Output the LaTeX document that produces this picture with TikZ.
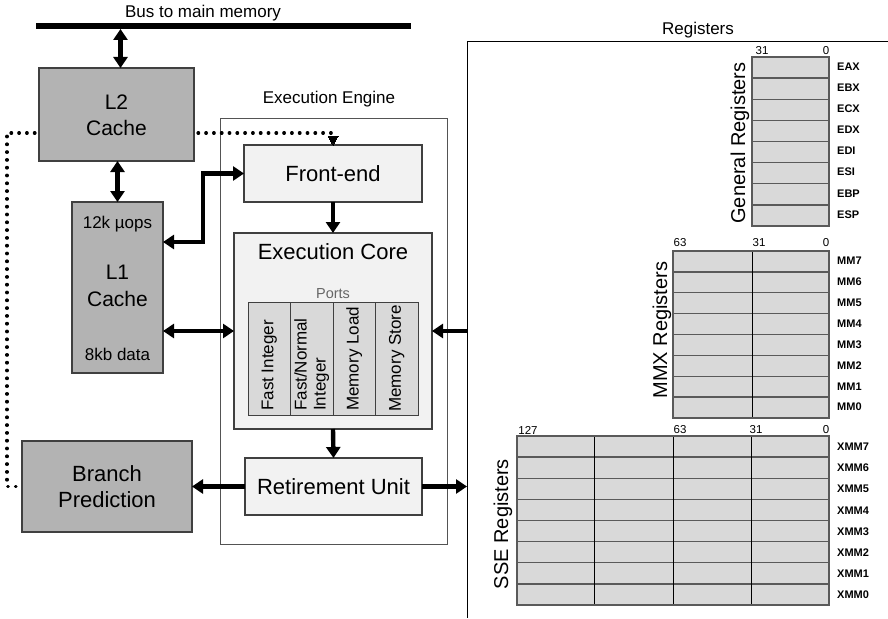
\documentclass[tikz,border=0pt]{standalone}
\usepackage{fontspec}
\setmainfont{Liberation Sans}
\usetikzlibrary{arrows.meta,calc}
\definecolor{cachegray}{HTML}{B3B3B3}
\definecolor{unitfill}{HTML}{F2F2F2}
\definecolor{cellfill}{HTML}{D9D9D9}
\definecolor{edge}{HTML}{404040}
\definecolor{rowline}{HTML}{5A5A5A}
\begin{document}
\begin{tikzpicture}[x=1pt,y=-1pt,
  font=\fontsize{17}{20}\selectfont,
  box/.style={draw=edge, line width=1.2pt, inner sep=0pt, outer sep=0pt, align=center},
  cache/.style={box, fill=cachegray},
  unit/.style={box, fill=unitfill, font=\fontsize{22}{26}\selectfont},
  portcol/.style={draw=edge, line width=1pt, fill=cellfill, inner sep=0pt, outer sep=0pt,
                  minimum width=42.5pt, minimum height=113pt},
  portlabel/.style={rotate=90, anchor=west, inner sep=0pt, align=left,
                    font=\fontsize{17}{19}\selectfont},
  bigtip/.tip={Triangle[length=11pt,width=14pt]},
  link/.style={line width=4.4pt, -bigtip},
  biarrow/.style={line width=4.4pt, bigtip-bigtip},
  dots/.style={line width=3.2pt, line cap=round, dash pattern=on 0.6pt off 7.2pt},
  regtitle/.style={rotate=90, font=\fontsize{20}{24}\selectfont},
  regname/.style={anchor=west, inner sep=0pt, font=\fontsize{11}{12}\selectfont\bfseries},
  bitnum/.style={inner sep=0pt, font=\fontsize{11.5}{13}\selectfont}
]
\useasboundingbox (0,0) rectangle (888,618);

% ---------- memory bus ----------
\coordinate (busL) at (36,26);
\coordinate (busR) at (411,26);
\coordinate (busA) at (120.5,29);
\draw[line width=6pt] (busL) -- (busR);
\node (buslabel) at (203,13) {Bus to main memory};

% ---------- caches and branch predictor ----------
\node[cache, minimum width=155pt, minimum height=93pt] (l2) at (116.5,114.5) {};
\node[font=\fontsize{21}{24}\selectfont] at (116.5,102) {L2};
\node[font=\fontsize{21}{24}\selectfont] at (116.5,128) {Cache};

\node[cache, minimum width=91pt, minimum height=171pt] (l1) at (117.5,287.5) {};
\node at (117.5,224) {12k µops};
\node[font=\fontsize{21}{24}\selectfont] at (117.5,272) {L1};
\node[font=\fontsize{21}{24}\selectfont] at (117.5,299) {Cache};
\node at (117.5,354) {8kb data};

\node[cache, minimum width=170pt, minimum height=91pt,
      font=\fontsize{22}{26}\selectfont] (br) at (107,486.5) {Branch\\Prediction};

% ---------- execution engine ----------
\node[draw=edge!90, line width=1pt, minimum width=227pt, minimum height=426pt,
      inner sep=0pt, outer sep=0pt] (eng) at (333.5,331) {};
\node (englabel) at (329,99) {Execution Engine};

\node[unit, minimum width=178pt, minimum height=57pt] (fe) at (333,173.5) {Front-end};
\node[box, fill=unitfill, minimum width=198pt, minimum height=196pt] (core) at (333,331) {};
\node[font=\fontsize{22}{26}\selectfont] at (333,252) {Execution Core};
\node[text=black!60, font=\fontsize{14.5}{17}\selectfont] at (333,294) {Ports};

\node[portcol] (p1) at (269.25,358.5) {};
\node[portcol] (p2) at (311.75,358.5) {};
\node[portcol] (p3) at (354.25,358.5) {};
\node[portcol] (p4) at (396.75,358.5) {};
\node[portlabel] at ([yshift=4pt]p1.south) {Fast Integer};
\node[portlabel] at ([yshift=4pt]p2.south) {Fast/Normal\\Integer};
\node[portlabel] at ([yshift=4pt]p3.south) {Memory Load};
\node[portlabel] at ([yshift=3pt]p4.south) {Memory Store};

\node[unit, minimum width=177pt, minimum height=57pt] (ret) at (333.5,486.5) {Retirement Unit};

% ---------- register files ----------
\coordinate (regTL) at (467,41);
\draw[line width=0.9pt] (888,41) -- (regTL) -- (467,618);
\node (reglabel) at (698,30) {Registers};

% general purpose registers
\fill[cellfill] (752,57) rectangle (829,226);
\foreach \i in {1,...,7}
  \draw[rowline, line width=1.4pt] (752,{57+21.125*\i}) -- (829,{57+21.125*\i});
\draw[rowline, line width=1.4pt] (752,57) rectangle (829,226);
\foreach \n [count=\i from 0] in {EAX,EBX,ECX,EDX,EDI,ESI,EBP,ESP}
  \node[regname] at (837,{57+21.125*\i+9.5}) {\n};
\node[bitnum] at (762,51) {31};
\node[bitnum] at (826,51) {0};
\node[regtitle] at (740,143) {General Registers};

% MMX registers
\fill[cellfill] (673,251) rectangle (829,418);
\foreach \i in {1,...,7}
  \draw[rowline, line width=1.4pt] (673,{251+20.875*\i}) -- (829,{251+20.875*\i});
\draw[black, line width=0.9pt] (752,251) -- (752,418);
\draw[rowline, line width=1.4pt] (673,251) rectangle (829,418);
\foreach \n [count=\i from 0] in {MM7,MM6,MM5,MM4,MM3,MM2,MM1,MM0}
  \node[regname] at (837,{251+20.875*\i+10}) {\n};
\node[bitnum] at (680,243) {63};
\node[bitnum] at (759,243) {31};
\node[bitnum] at (826,243) {0};
\node[regtitle] at (662,330) {MMX Registers};

% SSE registers
\fill[cellfill] (517,436) rectangle (829,605);
\foreach \i in {1,...,7}
  \draw[rowline, line width=1.4pt] (517,{436+21.125*\i}) -- (829,{436+21.125*\i});
\foreach \x in {594,673,751}
  \draw[black, line width=0.9pt] (\x,436) -- (\x,605);
\draw[rowline, line width=1.4pt] (517,436) rectangle (829,605);
\foreach \n [count=\i from 0] in {XMM7,XMM6,XMM5,XMM4,XMM3,XMM2,XMM1,XMM0}
  \node[regname] at (837,{436+21.125*\i+11}) {\n};
\node[bitnum] at (528,430) {127};
\node[bitnum] at (680,430) {63};
\node[bitnum] at (756,430) {31};
\node[bitnum] at (826,430) {0};
\node[regtitle] at (503,524) {SSE Registers};

% ---------- connectors ----------
\draw[biarrow] (busA) -- (busA |- l2.north);
\draw[biarrow] (l1.north |- l2.south) -- (l1.north);
\draw[biarrow] ([yshift=45.5pt]l1.east) -- ++(40,0) |- (fe.west);
\draw[biarrow] (core.west -| l1.east) -- (core.west);
\draw[link] (fe.south) -- (core.north);
\draw[link] (core.south) -- (ret.north);
\draw[link] (ret.west) -- (br.east);
\draw[link] (ret.east) -- (ret.east -| regTL);
\draw[link] (core.east -| regTL) -- (core.east);

% predicted fetch path (dotted)
\draw[dots] ([xshift=-4pt,yshift=-18.5pt]l2.west) -- (7,133) |- ([xshift=-1pt]br.west);
\draw[dots] ([xshift=4pt,yshift=-18.5pt]l2.east) -| ([yshift=8pt]fe.north);
\draw[line width=0pt, fill=black] (fe.north) -- ++(-5,-9) -- ++(10,0) -- cycle;
\end{tikzpicture}
\end{document}
